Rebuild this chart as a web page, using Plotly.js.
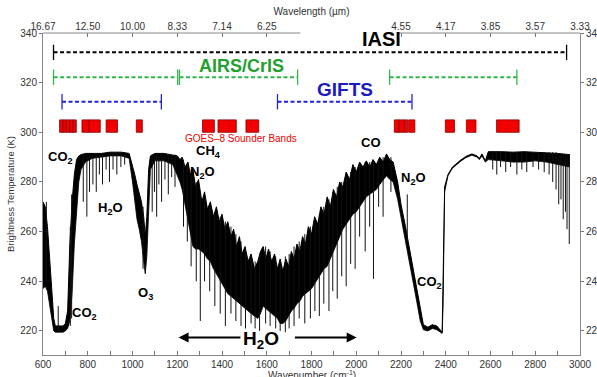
<!DOCTYPE html>
<html><head><meta charset="utf-8">
<script src="https://cdn.plot.ly/plotly-3.0.1.min.js"></script>
<style>html,body{margin:0;padding:0;background:#fff;} #chart{width:597px;height:377px;}</style>
</head><body><div id="chart"></div>
<script>
// Spectrum envelope (wavenumber, upper Tb, lower Tb of dense band)
const specWn = [600,610,620,630,640,648,655,665,675,690,700,710,720,730,740,750,760,770,790,820,860,900,950,985,
  1000,1010,1020,1030,1040,1050,1057,1064,1072,1080,1100,1140,1180,
  1200,1212,1222,1235,1248,1258,1270,1282,1295,1310,1322,1335,1348,1362,1375,1388,1400,1413,1426,1440,1452,1465,1478,1490,
  1503,1517,1530,1545,1560,1572,1584,1596,1608,1622,1635,1648,1660,1672,1685,1698,1710,1722,1735,1748,1760,1773,1786,1800,
  1814,1828,1842,1856,1870,1884,1898,1912,1926,1940,1955,1970,1985,2000,2015,2030,2045,2060,2075,2090,2105,2120,2135,2150,2165,2185,
  2200,2220,2240,2256,2270,2286,
  2300,2320,2340,2360,2375,2384,2388,2391,2395,2410,2430,2465,2490,2517,2540,2550,2562,2577,2590,2650,2700,2750,
  2800,2850,2900,2955];
const specHi = [272,270,262,250,236,225,222,222,222,222,223,228,255,272,283,289,290.5,291,291.5,291.5,291.5,292,292,291.5,
  287,283,279,276,272,266,258,266,285,290.5,291.5,291.5,291,
  290.5,289,290,286,288,283,285,278,281,272,276,269,272,266,270,264,267,261,264,258,261,254,258,251,
  254,248,251,245,248,252,254,249,253,248,251,245,249,244,249,246,252,249,255,252,258,255,262,259,
  266,263,270,267,274,270,277,274,280,278,284,281,287,284,288,286,288.5,286,289,287,290,288,291.3,289,288,280,
  271,262,252,245,238,229,
  222.5,221.5,222.5,222,220.5,219.5,240,270,278,283,286,288.7,290.3,291.3,290.5,289.5,291.3,288.5,292.2,292.2,292,292.2,
  292,292,291.5,291];
const specLo = [237,238,236,230,224,220,219.5,219.5,219.5,219.5,220,221,224,235,255,268,280,285,288,289.5,290,290.5,290.5,289.5,
  280,272,265,261,256,248,243,250,272,285,288.5,288.5,287,
  283,280,277,271,265,259,254,253,253,252,251,249,248,245,243,241,239,237,235,234,233,232,231,230,
  229,228,227,226,225,227,230,229,228,227,226,225,223,223,224,226,228,229,231,232,234,235,236,237,
  239,241,243,245,246,249,252,255,258,261,263,265,267,268,270,272,274,275,276,277,279,281,282.5,281,280,273,
  266,256,246,239,232,224,
  220.5,220,221,220.5,219.5,219,230,262,276,282.5,285.5,288.2,289.8,290.8,290,289,290.5,288,289,288.5,288,288,
  288.5,288,287,286];

// Individual absorption lines (wavenumber, top Tb, bottom Tb)
const spikeWn  = [615,668,722,728,780,796,808,823,838,852,866,882,897,913,930,948,965,1047,
  1088,1098,1108,1118,1130,1145,1160,1175,1190,
  1228,1245,1262,1285,1303,1322,1345,1368,1392,1415,1440,1462,1485,1505,1530,1548,1568,1595,1615,1640,1660,1683,1700,
  1722,1745,1770,1795,1815,1835,1855,1878,1895,1915,1935,1955,1975,1995,2015,2040,2060,2077,2100,2120,2155,2228,
  2610,2628,2645,2668,2690,2718,2740,2762,2790,2815,2840,2862,2878,2893,2905,2915,2925,2935,2942,2952];
const spikeTop = [272,230,262,275,291,291,291,291,291,291,291,291,291,291,291,291,291,270,
  291,291,291,291,291,291,291,291,291,
  289,287,285,280,276,273,270,268,266,264,262,259,256,253,250,248,250,254,252,250,248,250,251,
  254,256,259,262,264,267,270,273,276,278,280,282,284,286,288,288,288,288,289,290,290,275,
  292,292,292,292,292,292,292,292,292,292,292,292,292,292,291,291,291,291,291,291];
const spikeBot = [240,219.5,222,225,272,266,276,279,276,283,279,285,280,285,283,286,287,245,
  268,276,266,279,272,281,275,282,278,
  262,256,246,240,224,240,236,230,227,222,227,224,222,221,223,221,220,223,222,221,220,219.5,221,
  222,225,223,225,228,226,231,228,236,233,242,238,247,245,258,252,262,241,270,266,276,256,
  285,283,286,284,286,283,285,284,286,285,284,283,280,277,271,273,265,268,261,255];

// Instrument coverage (cm-1)
const iasiStart = [647];           const iasiEnd = [2940];
const airsStart = [647,1210,2149]; const airsEnd = [1202,1738,2718];
const giftsStart = [685,1648];     const giftsEnd = [1129,2249];
const goesStart = [674,689,704,719,734,774,806,882,1017,1313,1382,1507,2170,2192,2215,2234,2398,2492,2627];
const goesEnd   = [689,704,719,734,749,806,856,933,1044,1366,1464,1564,2192,2215,2230,2262,2439,2535,2728];

// Axis ticks
const bottomTickVals = [600,700,800,900,1000,1100,1200,1300,1400,1500,1600,1700,1800,1900,2000,2100,2200,2300,2400,2500,2600,2700,2800,2900,3000];
const bottomTickText = ['600','','800','','1000','','1200','','1400','','1600','','1800','','2000','','2200','','2400','','2600','','2800','','3000'];
const topTickWn = [600,800,1000,1200,1400,1600,2200,2400,2600,2800,3000];
const topTickLabels = ['16.67','12.50','10.00','8.33','7.14','6.25','4.55','4.17','3.85','3.57','3.33'];
const tempTicks = [220,240,260,280,300,320,340];

// Molecule labels
const molText = ['CO<sub>2</sub>','CO<sub>2</sub>','H<sub>2</sub>O','O<sub>3</sub>','CH<sub>4</sub>','N<sub>2</sub>O','CO','N<sub>2</sub>O','CO<sub>2</sub>'];
const molWn   = [677,785,903,1057,1339,1314,2067,2255,2326];
const molT    = [289.8,227,269.5,235,292.3,284,296,281.5,239.5];

const FONT = 'Liberation Sans, Arial, Helvetica, sans-serif';
const YR = [210.3, 340];

const traces = [];
traces.push({x: specWn, y: specLo, mode:'lines', line:{color:'#000', width:0.8}, hoverinfo:'skip', showlegend:false});
traces.push({x: specWn, y: specHi, mode:'lines', fill:'tonexty', fillcolor:'#000', line:{color:'#000', width:1}, hoverinfo:'skip', showlegend:false});
const sx = [], sy = [];
for (let i = 0; i < spikeWn.length; i++) { sx.push(spikeWn[i], spikeWn[i], null); sy.push(spikeTop[i], spikeBot[i], null); }
traces.push({x: sx, y: sy, mode:'lines', line:{color:'#111', width:1}, hoverinfo:'skip', showlegend:false});

function seg(starts, ends, level, color, mcolor) {
  const x = [], y = [];
  for (let i = 0; i < starts.length; i++) { x.push(starts[i], ends[i], null); y.push(level, level, null); }
  return {x, y, mode:'lines+markers', line:{color, width:2, dash:'4px,2.5px'},
    marker:{symbol:'line-ns-open', size:11, line:{color:mcolor, width:1.3}}, hoverinfo:'skip', showlegend:false, cliponaxis:false};
}
traces.push(seg(iasiStart, iasiEnd, 332.2, '#000', '#333'));
traces.push(seg(airsStart, airsEnd, 322.2, '#2db84a', '#2db84a'));
traces.push(seg(giftsStart, giftsEnd, 312.3, '#2323e0', '#2323e0'));
// dummy trace for secondary axes
traces.push({x:[600,3000], y:[220,340], xaxis:'x2', yaxis:'y2', mode:'markers', marker:{opacity:0}, hoverinfo:'skip', showlegend:false});

const shapes = [];
for (let i = 0; i < goesStart.length; i++) {
  shapes.push({type:'rect', xref:'x', yref:'y', x0:goesStart[i], x1:goesEnd[i], y0:300, y1:305,
    fillcolor:'#f20000', line:{color:'#8a0000', width:0.8}, layer:'above'});
}
shapes.push({type:'line', xref:'x', yref:'paper', x0:600, x1:1750, y0:1, y1:1, line:{color:'#888', width:1}});
shapes.push({type:'line', xref:'x', yref:'paper', x0:2190, x1:3000, y0:1, y1:1, line:{color:'#888', width:1}});

const annotations = [
  {x:2112, y:337.4, text:'<b>IASI</b>', showarrow:false, font:{family:FONT, size:20, color:'#000'}},
  {x:1489, y:326.6, text:'<b>AIRS/CrIS</b>', showarrow:false, font:{family:FONT, size:18, color:'#22a030'}},
  {x:1951, y:317.3, text:'<b>GIFTS</b>', showarrow:false, font:{family:FONT, size:19, color:'#1a1ac0'}},
  {x:1485, y:297.5, text:'GOES\u20138 Sounder Bands', showarrow:false, font:{family:FONT, size:10, color:'#f00000'}},
  {x:1575, y:216.2, text:'<b>H<sub>2</sub>O</b>', showarrow:false, font:{family:FONT, size:19, color:'#000'}},
  {x:1206, y:217.3, ax:1489, ay:217.3, axref:'x', ayref:'y', text:'', showarrow:true, arrowhead:2, arrowsize:1, arrowwidth:2, arrowcolor:'#000'},
  {x:2002, y:217.3, ax:1719, ay:217.3, axref:'x', ayref:'y', text:'', showarrow:true, arrowhead:2, arrowsize:1, arrowwidth:2, arrowcolor:'#000'},
  {xref:'paper', yref:'paper', x:0.5, y:0, yanchor:'top', yshift:-12, text:'Wavenumber (cm<sup>-1</sup>)', showarrow:false,
    font:{family:FONT, size:10, color:'#333'}}
];
for (let i = 0; i < molText.length; i++) {
  annotations.push({x:molWn[i], y:molT[i], text:'<b>'+molText[i]+'</b>', showarrow:false, font:{family:FONT, size:13, color:'#000'}});
}

const axBase = {showgrid:false, zeroline:false, showline:true, linecolor:'#888', linewidth:1, tickcolor:'#777', ticklen:4,
  tickfont:{family:FONT, size:10, color:'#333'}, automargin:false};

const layout = {
  width:597, height:377,
  margin:{l:43, r:17, t:33, b:22},
  paper_bgcolor:'#fff', plot_bgcolor:'#fff',
  font:{family:FONT},
  showlegend:false,
  xaxis: Object.assign({}, axBase, {range:[600,3000], tickmode:'array', tickvals:bottomTickVals, ticktext:bottomTickText, ticks:'inside'}),
  yaxis: Object.assign({}, axBase, {range:YR, tickmode:'array', tickvals:tempTicks, ticks:'outside', ticklen:3,
    title:{text:'Brightness Temperature (K)', font:{family:FONT, size:9.5, color:'#333'}, standoff:3}}),
  xaxis2: Object.assign({}, axBase, {overlaying:'x', side:'top', range:[600,3000], tickmode:'array', tickvals:topTickWn, ticktext:topTickLabels,
    ticks:'inside', showline:false, title:{text:'Wavelength (\u00b5m)', font:{family:FONT, size:10, color:'#333'}, standoff:3}}),
  yaxis2: Object.assign({}, axBase, {overlaying:'y', side:'right', range:YR, tickmode:'array', tickvals:tempTicks, ticks:'outside', ticklen:3}),
  shapes, annotations
};
Plotly.newPlot('chart', traces, layout, {staticPlot:true, displayModeBar:false});
</script></body></html>
